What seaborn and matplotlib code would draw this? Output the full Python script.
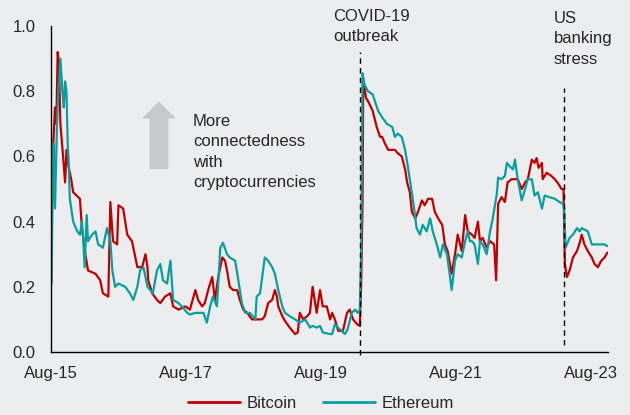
import pandas as pd
import seaborn as sns
import matplotlib.pyplot as plt
import matplotlib.dates as mdates

# Bitcoin connectedness (decimal year, value)
btc_year = [2015.59, 2015.61, 2015.64, 2015.66, 2015.68, 2015.70, 2015.72, 2015.74, 2015.76, 2015.79,
            2015.81, 2015.84, 2015.88, 2015.91, 2016.01, 2016.04, 2016.09, 2016.13, 2016.24, 2016.31,
            2016.35, 2016.43, 2016.46, 2016.50, 2016.56, 2016.58, 2016.65, 2016.71, 2016.78, 2016.83,
            2016.86, 2016.93, 2016.98, 2017.01, 2017.02, 2017.08, 2017.15, 2017.20, 2017.27, 2017.35,
            2017.39, 2017.47, 2017.57, 2017.64, 2017.72, 2017.76, 2017.82, 2017.86, 2017.91, 2017.97,
            2018.01, 2018.06, 2018.12, 2018.16, 2018.19, 2018.23, 2018.28, 2018.34, 2018.38, 2018.43,
            2018.49, 2018.56, 2018.63, 2018.71, 2018.75, 2018.80, 2018.86, 2018.90, 2018.93, 2018.95,
            2019.01, 2019.05, 2019.12, 2019.20, 2019.24, 2019.27, 2019.32, 2019.38, 2019.42, 2019.46,
            2019.52, 2019.57, 2019.61, 2019.67, 2019.72, 2019.75, 2019.79, 2019.84, 2019.91, 2019.97,
            2020.01, 2020.06, 2020.12, 2020.16, 2020.18, 2020.20, 2020.21, 2020.23, 2020.25, 2020.28,
            2020.35, 2020.41, 2020.46, 2020.49, 2020.53, 2020.58, 2020.68, 2020.72, 2020.78, 2020.83,
            2020.86, 2020.90, 2020.93, 2020.98, 2021.02, 2021.08, 2021.12, 2021.17, 2021.23, 2021.27,
            2021.32, 2021.38, 2021.42, 2021.46, 2021.52, 2021.57, 2021.61, 2021.67, 2021.72, 2021.76,
            2021.82, 2021.86, 2021.91, 2021.94, 2021.98, 2022.04, 2022.09, 2022.15, 2022.18, 2022.20,
            2022.21, 2022.26, 2022.31, 2022.35, 2022.41, 2022.46, 2022.50, 2022.56, 2022.61, 2022.65,
            2022.71, 2022.75, 2022.78, 2022.81, 2022.86, 2022.87, 2022.93, 2023.00, 2023.05, 2023.09,
            2023.15, 2023.18, 2023.20, 2023.23, 2023.27, 2023.32, 2023.38, 2023.42, 2023.45, 2023.49,
            2023.54, 2023.60, 2023.64, 2023.69, 2023.74, 2023.79, 2023.83]
btc_val = [0.45, 0.62, 0.75, 0.70, 0.92, 0.88, 0.70, 0.65, 0.60, 0.52,
           0.62, 0.57, 0.53, 0.49, 0.47, 0.38, 0.30, 0.25, 0.24, 0.22,
           0.18, 0.17, 0.46, 0.34, 0.33, 0.45, 0.44, 0.36, 0.34, 0.29,
           0.26, 0.26, 0.30, 0.26, 0.22, 0.18, 0.16, 0.15, 0.17, 0.18,
           0.14, 0.13, 0.14, 0.13, 0.19, 0.16, 0.14, 0.15, 0.19, 0.23,
           0.16, 0.23, 0.29, 0.28, 0.25, 0.20, 0.19, 0.19, 0.16, 0.13,
           0.12, 0.10, 0.10, 0.10, 0.11, 0.15, 0.16, 0.19, 0.17, 0.14,
           0.11, 0.095, 0.075, 0.055, 0.06, 0.12, 0.10, 0.11, 0.12, 0.20,
           0.12, 0.19, 0.14, 0.14, 0.10, 0.12, 0.10, 0.065, 0.065, 0.12,
           0.13, 0.10, 0.085, 0.08, 0.21, 0.46, 0.82, 0.81, 0.78, 0.77,
           0.74, 0.69, 0.66, 0.66, 0.64, 0.62, 0.62, 0.61, 0.60, 0.56,
           0.52, 0.49, 0.43, 0.41, 0.43, 0.465, 0.45, 0.47, 0.47, 0.43,
           0.41, 0.39, 0.33, 0.31, 0.24, 0.30, 0.36, 0.31, 0.42, 0.37,
           0.36, 0.35, 0.40, 0.34, 0.35, 0.32, 0.34, 0.33, 0.22, 0.38,
           0.455, 0.475, 0.46, 0.52, 0.53, 0.53, 0.53, 0.50, 0.52, 0.53,
           0.59, 0.58, 0.595, 0.565, 0.58, 0.53, 0.55, 0.54, 0.53, 0.52,
           0.50, 0.50, 0.27, 0.23, 0.25, 0.29, 0.31, 0.335, 0.36, 0.33,
           0.31, 0.29, 0.27, 0.26, 0.28, 0.29, 0.305]

# Ethereum connectedness (decimal year, value)
eth_year = [2015.59, 2015.61, 2015.62, 2015.64, 2015.67, 2015.69, 2015.72, 2015.75, 2015.77, 2015.79,
            2015.81, 2015.83, 2015.84, 2015.86, 2015.91, 2015.97, 2016.01, 2016.04, 2016.06, 2016.08,
            2016.11, 2016.13, 2016.19, 2016.24, 2016.28, 2016.35, 2016.41, 2016.46, 2016.49, 2016.53,
            2016.58, 2016.68, 2016.75, 2016.80, 2016.86, 2016.90, 2016.95, 2017.01, 2017.05, 2017.09,
            2017.15, 2017.20, 2017.24, 2017.30, 2017.35, 2017.39, 2017.47, 2017.52, 2017.60, 2017.64,
            2017.72, 2017.79, 2017.84, 2017.89, 2017.94, 2017.98, 2018.04, 2018.09, 2018.13, 2018.19,
            2018.23, 2018.31, 2018.35, 2018.41, 2018.46, 2018.53, 2018.61, 2018.63, 2018.68, 2018.75,
            2018.80, 2018.86, 2018.90, 2018.95, 2019.01, 2019.05, 2019.12, 2019.20, 2019.27, 2019.35,
            2019.42, 2019.46, 2019.52, 2019.57, 2019.61, 2019.72, 2019.75, 2019.79, 2019.86, 2019.94,
            2019.98, 2020.04, 2020.09, 2020.13, 2020.16, 2020.17, 2020.18, 2020.20, 2020.23, 2020.28,
            2020.35, 2020.43, 2020.49, 2020.56, 2020.64, 2020.68, 2020.72, 2020.78, 2020.83, 2020.87,
            2020.92, 2020.95, 2021.00, 2021.05, 2021.09, 2021.15, 2021.20, 2021.24, 2021.30, 2021.35,
            2021.39, 2021.45, 2021.49, 2021.52, 2021.57, 2021.61, 2021.67, 2021.72, 2021.76, 2021.79,
            2021.82, 2021.86, 2021.91, 2021.94, 2021.98, 2022.04, 2022.09, 2022.13, 2022.19, 2022.21,
            2022.26, 2022.31, 2022.34, 2022.38, 2022.43, 2022.46, 2022.50, 2022.56, 2022.61, 2022.65,
            2022.71, 2022.75, 2022.80, 2022.86, 2022.90, 2022.97, 2023.05, 2023.12, 2023.17, 2023.19,
            2023.21, 2023.23, 2023.27, 2023.32, 2023.38, 2023.42, 2023.45, 2023.54, 2023.60, 2023.67,
            2023.72, 2023.79, 2023.83]
eth_val = [0.21, 0.60, 0.64, 0.44, 0.70, 0.80, 0.90, 0.80, 0.75, 0.83,
           0.80, 0.63, 0.60, 0.47, 0.40, 0.37, 0.36, 0.40, 0.34, 0.26,
           0.42, 0.34, 0.36, 0.37, 0.33, 0.32, 0.38, 0.34, 0.25, 0.20,
           0.21, 0.20, 0.18, 0.16, 0.20, 0.25, 0.26, 0.20, 0.19, 0.18,
           0.25, 0.27, 0.22, 0.21, 0.28, 0.16, 0.15, 0.14, 0.12, 0.115,
           0.12, 0.12, 0.12, 0.09, 0.14, 0.17, 0.14, 0.32, 0.335, 0.30,
           0.29, 0.28, 0.23, 0.15, 0.12, 0.12, 0.10, 0.17, 0.18, 0.29,
           0.28, 0.26, 0.24, 0.19, 0.14, 0.12, 0.11, 0.10, 0.09, 0.10,
           0.075, 0.08, 0.075, 0.08, 0.06, 0.055, 0.055, 0.085, 0.07, 0.055,
           0.07, 0.12, 0.13, 0.12, 0.13, 0.23, 0.30, 0.855, 0.82, 0.80,
           0.79, 0.74, 0.72, 0.70, 0.69, 0.66, 0.67, 0.66, 0.62, 0.57,
           0.50, 0.46, 0.38, 0.36, 0.39, 0.37, 0.41, 0.37, 0.33, 0.29,
           0.33, 0.30, 0.24, 0.19, 0.28, 0.30, 0.29, 0.34, 0.37, 0.34,
           0.34, 0.33, 0.27, 0.34, 0.33, 0.30, 0.37, 0.41, 0.485, 0.535,
           0.53, 0.54, 0.58, 0.57, 0.56, 0.59, 0.53, 0.465, 0.50, 0.53,
           0.53, 0.48, 0.49, 0.44, 0.48, 0.475, 0.47, 0.46, 0.455, 0.44,
           0.32, 0.33, 0.35, 0.36, 0.38, 0.37, 0.38, 0.37, 0.33, 0.33,
           0.33, 0.33, 0.325]

events = ["COVID-19\noutbreak", "US\nbanking\nstress"]
event_dates = ["2020-03-01", "2023-03-10"]
note = "More\nconnectedness\nwith\ncryptocurrencies"


def to_date(y):
    yr = int(y)
    start = pd.Timestamp(yr, 1, 1)
    return start + (pd.Timestamp(yr + 1, 1, 1) - start) * (y - yr)


df = pd.concat([
    pd.DataFrame({"date": [to_date(y) for y in btc_year], "value": btc_val, "asset": "Bitcoin"}),
    pd.DataFrame({"date": [to_date(y) for y in eth_year], "value": eth_val, "asset": "Ethereum"}),
])

bg = "#ECEDEF"
sns.set_style("ticks", {"axes.facecolor": bg, "figure.facecolor": bg})
plt.rcParams["font.family"] = ["Liberation Sans", "DejaVu Sans"]

W, H = 630, 415
fig = plt.figure(figsize=(6.3, 4.15), dpi=100)
ax = fig.add_axes([51 / W, 1 - 352 / H, 557 / W, 326 / H])

sns.lineplot(data=df, x="date", y="value", hue="asset",
             palette={"Bitcoin": "#C00000", "Ethereum": "#0A9E9E"},
             linewidth=1.6, ax=ax)

# event lines
d0 = pd.Timestamp(event_dates[0])
d1 = pd.Timestamp(event_dates[1])
ax.plot([d0, d0], [-0.01, 0.92], color="black", linestyle=(0, (4, 3)), linewidth=1, clip_on=False)
ax.plot([d1, d1], [0.02, 0.81], color="black", linestyle=(0, (4, 3)), linewidth=1)
fig.text(333 / W, 1 - 9 / H, events[0], fontsize=12, va="top", ha="left", linespacing=1.45)
fig.text(554 / W, 1 - 11 / H, events[1], fontsize=12, va="top", ha="left", linespacing=1.45)

# arrow + note
ax.annotate("", xy=(to_date(2017.18), 0.765), xytext=(to_date(2017.18), 0.563),
            arrowprops=dict(arrowstyle="simple,head_length=1.1,head_width=2.25,tail_width=1.25",
                            mutation_scale=10, color="#C8C9CB", shrinkA=0, shrinkB=0))
fig.text(193 / W, 1 - 114 / H, note, fontsize=12, va="top", ha="left", linespacing=1.45)

ax.set_ylim(0, 1.0)
ax.set_yticks([0, 0.2, 0.4, 0.6, 0.8, 1.0])
ax.set_yticklabels(["0.0", "0.2", "0.4", "0.6", "0.8", "1.0"])
ax.set_xlim(pd.Timestamp("2015-08-01"), to_date(2023.84))
ax.set_xticks([pd.Timestamp(f"{y}-08-01") for y in [2015, 2017, 2019, 2021, 2023]])
ax.xaxis.set_major_formatter(mdates.DateFormatter("%b-%y"))
ax.tick_params(axis="y", length=0, labelsize=12, pad=11)
ax.tick_params(axis="x", length=0, labelsize=12, pad=10)
ax.set_xlabel("")
ax.set_ylabel("")
sns.despine(ax=ax)
for s in ["left", "bottom"]:
    ax.spines[s].set_color("black")
    ax.spines[s].set_linewidth(1)

leg = ax.legend(loc="center", bbox_to_anchor=(321 / W, 1 - 403 / H), bbox_transform=fig.transFigure,
                ncol=2, frameon=False, fontsize=12, handlelength=3.1, columnspacing=1.55,
                handletextpad=0.4, borderaxespad=0, borderpad=0)
for line in leg.get_lines():
    line.set_linewidth(2)

fig.savefig("out.png", dpi=100, facecolor=bg)
